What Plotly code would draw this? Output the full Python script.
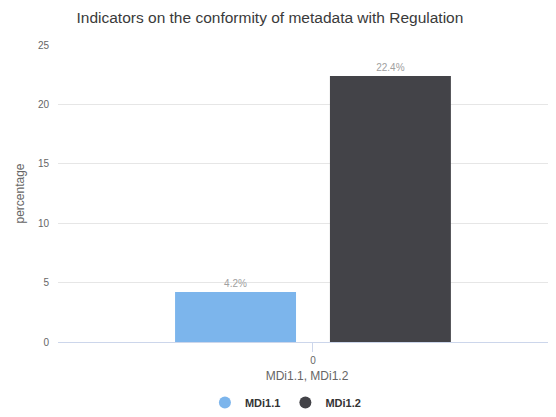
import plotly.graph_objects as go

categories = ["0"]
series_names = ["MDi1.1", "MDi1.2"]
series_values = [[4.2], [22.4]]
series_colors = ["#7cb5ec", "#434348"]
y_ticks = [0, 5, 10, 15, 20, 25]

FONT = "Liberation Sans, Arial, sans-serif"

fig = go.Figure()
for name, vals, col in zip(series_names, series_values, series_colors):
    fig.add_trace(go.Bar(
        x=categories, y=vals, name=name, marker=dict(color=col, line=dict(width=0)),
        text=[f"{v}%" for v in vals], textposition="outside",
        textfont=dict(size=10, color="#a0a0a0", family=FONT),
        cliponaxis=False, showlegend=False,
    ))
for name, col in zip(series_names, series_colors):
    fig.add_trace(go.Scatter(
        x=[None], y=[None], mode="markers", name=name,
        marker=dict(color=col, size=11, symbol="circle"), showlegend=True,
    ))

fig.update_layout(
    width=548, height=409,
    margin=dict(l=50, r=0, t=37, b=70),
    paper_bgcolor="white", plot_bgcolor="white",
    font=dict(family=FONT, color="#666666", size=10),
    title=dict(text="Indicators on the conformity of metadata with Regulation",
               x=0.478, xanchor="center", y=0.976, yanchor="middle",
               font=dict(size=15.5, color="#3a3a3a", family=FONT)),
    barmode="group", bargap=0.378, bargroupgap=0.219,
    legend=dict(orientation="h", x=0.295, xanchor="left", y=-0.205, yanchor="middle",
                font=dict(size=11, color="#333333", family=FONT, weight="bold"),
                itemsizing="constant", itemwidth=30, tracegroupgap=0),
    xaxis=dict(type="category", range=[-0.512, 0.488], showgrid=False,
               showline=True, linecolor="#ccd6eb", linewidth=1,
               ticks="outside", ticklen=9, tickcolor="#ccd6eb",
               tickfont=dict(size=10, color="#666666"),
               title=dict(text="MDi1.1, MDi1.2", font=dict(size=12, color="#666666"), standoff=6)),
    yaxis=dict(range=[0, 25], tickvals=y_ticks, showgrid=True, gridcolor="#e6e6e6",
               zeroline=False, showline=False, ticks="", ticklabelstandoff=8,
               tickfont=dict(size=10, color="#666666"),
               title=dict(text="percentage", font=dict(size=12, color="#666666"), standoff=10)),
)

fig.write_html("out.html")
